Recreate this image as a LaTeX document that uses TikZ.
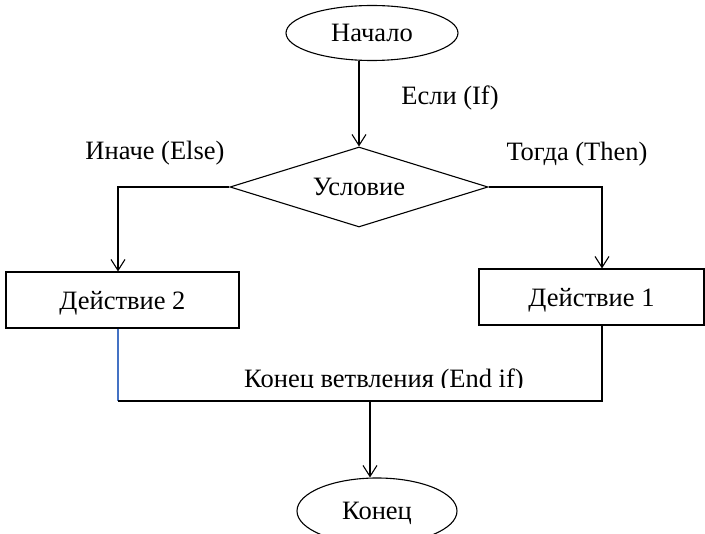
\documentclass[tikz,border=0pt]{standalone}
\usepackage{fontspec}
\setmainfont{Liberation Serif}
\usetikzlibrary{shapes.geometric,arrows.meta}
\definecolor{linkblue}{RGB}{68,114,196}
\tikzset{
  every node/.style={font=\fontsize{26.5}{30}\selectfont},
  flowline/.style={draw=black,line width=1.1pt},
  arr/.style={flowline,-{Straight Barb[length=11pt,width=14pt,line width=1.1pt]}},
  term/.style={ellipse,draw,line width=1.1pt,inner sep=0pt,text depth=0pt},
  decide/.style={diamond,draw,line width=1.1pt,inner sep=0pt,aspect=3.2,text depth=0pt},
  act/.style={rectangle,draw,line width=1.1pt,inner sep=0pt,text depth=0pt},
  lbl/.style={inner sep=0pt}
}
\begin{document}
\begin{tikzpicture}[x=1pt,y=-1pt]
\useasboundingbox (0,0) rectangle (705,534);
\node[term,minimum width=172pt,minimum height=55pt] (start) at (372,33) {Начало};
\node[decide,minimum width=258pt,minimum height=80pt] (cond) at (359,187) {Условие};
\node[act,minimum width=233pt,minimum height=56pt] (act2) at (122.5,300) {Действие 2};
\node[act,minimum width=225pt,minimum height=56pt] (act1) at (591.5,297) {Действие 1};
\node[term,minimum width=160pt,minimum height=66pt] (fin) at (377,511) {Конец};
\coordinate (L) at (118,0);
\coordinate (R) at (602,0);
\coordinate (M) at (0,401);
\coordinate (C) at (370,401);
% labels
\node[lbl] (lif) at (450,98) {Если (If)};
\node[lbl] (lelse) at (155,153) {Иначе (Else)};
\node[lbl] (lthen) at (577,154) {Тогда (Then)};
\begin{scope}
\clip (200,360) rectangle (560,388);
\node[lbl] (lend) at (384,381) {Конец ветвления (End if)};
\end{scope}
% connectors
\draw[arr] (start.south -| cond.north) -- (cond.north);
\draw[arr] (cond.west) -| (L |- act2.north);
\draw[arr] (cond.east) -| (R |- act1.north);
\draw[line width=1.1pt,draw=linkblue] (L |- act2.south) -- (L |- M);
\draw[flowline] (L |- M) -- (R |- M) -- (R |- act1.south);
\draw[arr] (C) -- (C |- fin.north);
\end{tikzpicture}
\end{document}
